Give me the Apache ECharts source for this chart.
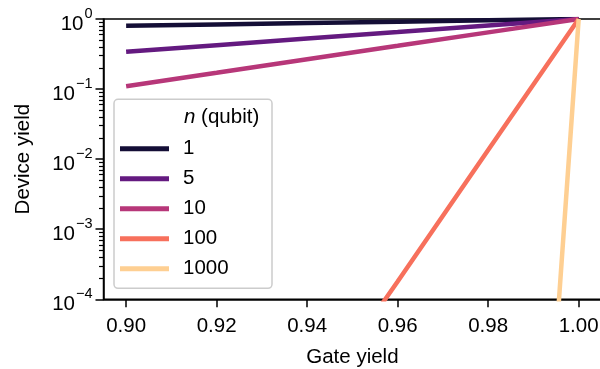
<!DOCTYPE html>
<html>
<head>
<meta charset="utf-8">
<script src="https://cdn.jsdelivr.net/npm/echarts@6/dist/echarts.min.js"></script>
<style>
  html, body { margin: 0; padding: 0; background: #fff; }
  #chart { width: 600px; height: 369px; }
</style>
</head>
<body>
<div id="chart"></div>
<script>
// Device yield versus gate yield for several qubit counts
const qubitCounts = ['1', '5', '10', '100', '1000'];
const gateYield = [0.90, 0.92, 0.94, 0.96, 0.98, 1.00];
const gateYieldFine = [0.990, 0.995, 1.000];

const yieldN1 = [0.80, 0.838, 0.876, 0.916, 0.957, 1.0];
const yieldN5 = [0.34, 0.423, 0.525, 0.650, 0.807, 1.0];
const yieldN10 = [0.11, 0.171, 0.267, 0.414, 0.644, 1.0];
const yieldN100 = [4.5e-10, 3.3e-8, 2.5e-6, 1.8e-4, 0.0135, 1.0];
const yieldN1000 = [6.3e-10, 2.5e-5, 1.0];

const xTicks = [0.90, 0.92, 0.94, 0.96, 0.98, 1.00];

const colors = ['#140e36', '#641a80', '#b73779', '#f7705c', '#fecf92'];
const FONT = 'Liberation Sans, Arial, sans-serif';
const FS = 20.5;

function pairs(xs, ys) { return xs.map((x, i) => [x, ys[i]]); }

const seriesData = [
  pairs(gateYield, yieldN1),
  pairs(gateYield, yieldN5),
  pairs(gateYield, yieldN10),
  pairs(gateYield, yieldN100),
  pairs(gateYieldFine, yieldN1000)
];

// minor tick positions (2..9 within each decade), in log10 units
const minorTicks = [];
for (let e = -4; e < 0; e++) {
  for (let k = 2; k <= 9; k++) minorTicks.push(e + Math.log10(k));
}

const chart = echarts.init(document.getElementById('chart'), null, { renderer: 'canvas' });

chart.setOption({
  animation: false,
  textStyle: { fontFamily: FONT },
  grid: {
    left: 103.5, top: 19, width: 497.8, height: 280.3,
    outerBoundsMode: 'none', containLabel: false,
    show: true, borderColor: '#000', borderWidth: 1.5, backgroundColor: 'transparent'
  },
  xAxis: {
    type: 'value', min: 0.895, max: 1.005,
    name: 'Gate yield', nameLocation: 'middle', nameGap: 48,
    nameTextStyle: { fontFamily: FONT, fontSize: FS, color: '#000' },
    axisLine: { show: true, onZero: false, lineStyle: { color: '#000', width: 1.5 } },
    axisTick: { show: true, length: 8, lineStyle: { color: '#000', width: 1.5 }, customValues: xTicks },
    axisLabel: {
      customValues: xTicks, margin: 17, fontFamily: FONT, fontSize: FS, color: '#000',
      formatter: v => Number(v).toFixed(2)
    },
    splitLine: { show: false }
  },
  yAxis: [
    {
      type: 'log', logBase: 10, min: 1e-4, max: 1, interval: 1,
      name: 'Device yield', nameLocation: 'middle', nameGap: 70,
      nameTextStyle: { fontFamily: FONT, fontSize: FS, color: '#000' },
      axisLine: { show: true, onZero: false, lineStyle: { color: '#000', width: 1.5 } },
      axisTick: { show: true, length: 8, lineStyle: { color: '#000', width: 1.5 } },
      axisLabel: {
        margin: 11, color: '#000', fontFamily: FONT,
        formatter: v => {
          const e = Math.round(Math.log10(v));
          return '{b|10}{s|' + (e < 0 ? '\u2212' + (-e) : e) + '}';
        },
        rich: {
          b: { fontFamily: FONT, fontSize: FS, lineHeight: 20, padding: [10, 0, 0, 0], color: '#000' },
          s: { fontFamily: FONT, fontSize: 14.5, lineHeight: 14, padding: [2.6, 0, 13.4, 1], color: '#000' }
        }
      },
      splitLine: { show: false }
    },
    {
      type: 'value', min: -4, max: 0, position: 'left', offset: 0,
      axisLine: { show: false, onZero: false },
      axisTick: { show: true, length: 4.5, lineStyle: { color: '#000', width: 1.2 }, customValues: minorTicks },
      axisLabel: { show: false },
      splitLine: { show: false }
    }
  ],
  legend: {
    orient: 'vertical', left: 114, top: 99.3, z: 5,
    padding: [39, 7, 10, 6],
    itemWidth: 49, itemHeight: 5, itemGap: 9,
    icon: 'rect',
    textStyle: { fontFamily: FONT, fontSize: FS, lineHeight: 20, color: '#000', padding: [0, 0, 0, 9] },
    data: qubitCounts
  },
  graphic: [
    {
      type: 'rect', z: 3,
      shape: { x: 114, y: 99.3, width: 158, height: 189, r: 4 },
      style: { fill: 'rgba(255,255,255,0.8)', stroke: '#cccccc', lineWidth: 1.5 }
    },
    {
      type: 'text', z: 6, left: 184, top: 107,
      style: {
        text: '{i|n} (qubit)',
        rich: {
          i: { fontFamily: FONT, fontSize: FS, fontStyle: 'italic', fill: '#000' }
        },
        fontFamily: FONT, fontSize: FS, fill: '#000'
      }
    }
  ],
  series: seriesData.map((d, i) => ({
    name: qubitCounts[i],
    type: 'line',
    data: d,
    showSymbol: false,
    clip: true,
    color: colors[i],
    lineStyle: { width: 4.5, color: colors[i] },
    itemStyle: { color: colors[i] },
    z: 2 + i * 0.01
  }))
});
</script>
</body>
</html>
